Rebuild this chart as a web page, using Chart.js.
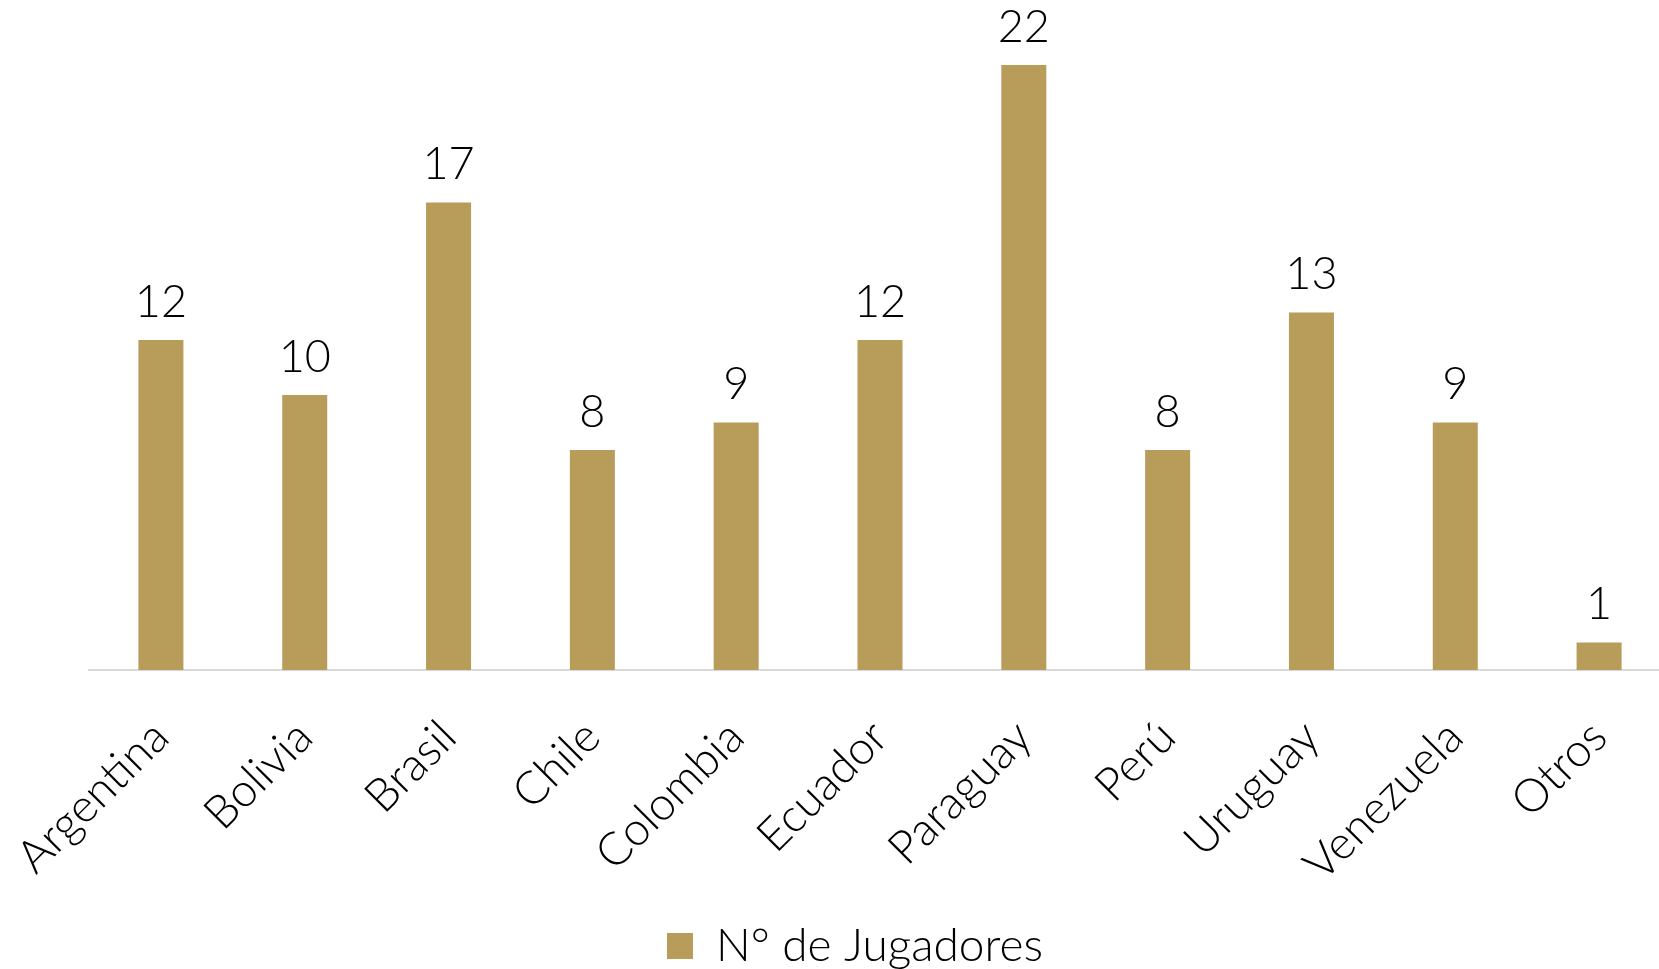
<!DOCTYPE html>
<html>
<head>
<meta charset="utf-8">
<script src="https://cdn.jsdelivr.net/npm/chart.js@4/dist/chart.umd.min.js"></script>
<style>
  html, body { margin: 0; padding: 0; background: #fff; overflow: hidden; }
  #wrap { width: 1671px; height: 969px; }
</style>
</head>
<body>
<div id="wrap"><canvas id="myChart"></canvas></div>
<script>
const countries = ["Argentina", "Bolivia", "Brasil", "Chile", "Colombia", "Ecuador", "Paraguay", "Perú", "Uruguay", "Venezuela", "Otros"];
const players = [12, 10, 17, 8, 9, 12, 22, 8, 13, 9, 1];
const seriesName = "N° de Jugadores";

const gold = "#B89C5A";
const fontFamily = "Lato, 'Open Sans', sans-serif";

// draws the number above each bar
const valueLabels = {
  id: "valueLabels",
  afterDatasetsDraw(chart) {
    const ctx = chart.ctx;
    const meta = chart.getDatasetMeta(0);
    ctx.save();
    ctx.font = "300 45px " + fontFamily;
    ctx.fillStyle = "#000";
    ctx.textAlign = "center";
    ctx.textBaseline = "alphabetic";
    meta.data.forEach((bar, i) => {
      ctx.fillText(players[i], bar.x, bar.y - 23);
    });
    ctx.restore();
  }
};

// nudge the legend a bit, like the original
const legendShift = {
  id: "legendShift",
  afterLayout(chart) {
    const lg = chart.legend;
    lg.left -= 25;
    lg.right -= 25;
    lg.top += 10;
    lg.bottom += 10;
  }
};

const ctx = document.getElementById("myChart").getContext("2d");
new Chart(ctx, {
  type: "bar",
  data: {
    labels: countries,
    datasets: [
      {
        label: seriesName,
        data: players,
        backgroundColor: gold,
        borderColor: gold,
        borderWidth: 0,
        barPercentage: 0.313,
        categoryPercentage: 1,
      },
    ],
  },
  options: {
    responsive: true,
    maintainAspectRatio: false,
    animation: false,
    layout: { padding: { top: 10, left: 89, right: 0, bottom: 0 } },
    scales: {
      x: {
        grid: { display: false, drawTicks: false },
        border: { display: true, color: "#d9d9d9", width: 2 },
        ticks: {
          minRotation: 45,
          maxRotation: 45,
          padding: 40,
          color: "#000",
          font: { family: fontFamily, size: 46, weight: "300" },
        },
        afterFit(scale) {
          scale.height -= 20;
          scale.paddingLeft = 0;
          scale.paddingRight = 0;
        },
      },
      y: {
        display: false,
        min: 0,
        max: 24,
      },
    },
    plugins: {
      legend: {
        position: "bottom",
        labels: {
          boxWidth: 26,
          boxHeight: 26,
          padding: 1,
          color: "#000",
          font: { family: fontFamily, size: 46, weight: "300" },
        },
      },
      tooltip: { enabled: false },
    },
  },
  plugins: [valueLabels, legendShift],
});
</script>
</body>
</html>
